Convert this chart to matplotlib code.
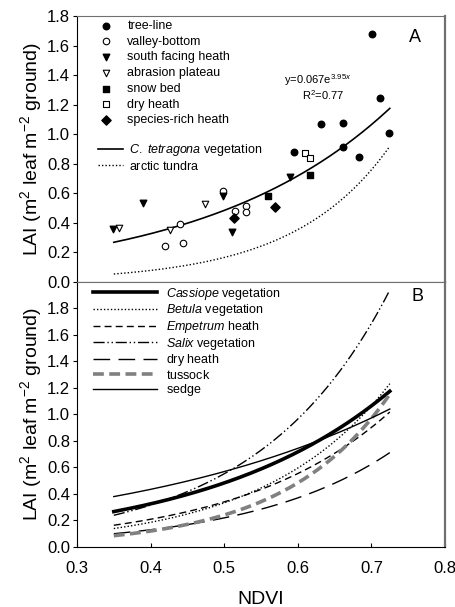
import numpy as np
import matplotlib
matplotlib.use('Agg')
import matplotlib.pyplot as plt
import matplotlib.ticker as mticker

plt.rcParams['font.family'] = ['Liberation Sans', 'DejaVu Sans']
plt.rcParams['mathtext.fontset'] = 'custom'
plt.rcParams['mathtext.rm'] = 'Liberation Sans'
plt.rcParams['mathtext.it'] = 'Liberation Sans:italic'

# ---------------------------------------------------------------------------
# Panel A : LAI mesuré par site (NDVI, LAI)
# ---------------------------------------------------------------------------
tree_line_x = [0.701, 0.712, 0.724, 0.631, 0.661, 0.662, 0.683, 0.595]
tree_line_y = [1.68, 1.245, 1.005, 1.068, 1.073, 0.91, 0.845, 0.881]
valley_x = [0.499, 0.514, 0.530, 0.530, 0.4395, 0.419, 0.444]
valley_y = [0.614, 0.481, 0.515, 0.47, 0.389, 0.24, 0.26]
south_x = [0.349, 0.390, 0.499, 0.510, 0.589]
south_y = [0.359, 0.533, 0.58, 0.339, 0.711]
abrasion_x = [0.357, 0.427, 0.474]
abrasion_y = [0.364, 0.35, 0.524]
snow_x = [0.560, 0.617]
snow_y = [0.583, 0.725]
dry_x = [0.610, 0.616]
dry_y = [0.870, 0.836]
rich_x = [0.569, 0.513]
rich_y = [0.506, 0.432]

# courbes exponentielles y = a * exp(b * NDVI)
ndvi_range = (0.35, 0.725)
tetragona_ab = (0.067, 3.95)
tundra_ab = (0.00358, 7.65)

# ---------------------------------------------------------------------------
# Panel B : relations LAI-NDVI par type de végétation
# ---------------------------------------------------------------------------
veg_labels = [r'$\mathit{Cassiope}\ \mathrm{vegetation}$', r'$\mathit{Betula}\ \mathrm{vegetation}$',
              r'$\mathit{Empetrum}\ \mathrm{heath}$', r'$\mathit{Salix}\ \mathrm{vegetation}$',
              r'$\mathrm{dry\ heath}$', r'$\mathrm{tussock}$', r'$\mathrm{sedge}$']
veg_a = [0.067, 0.01817, 0.0298, 0.0339, 0.01605, 0.00747, 0.1485]
veg_b = [3.95, 5.815, 4.87, 5.58, 5.23, 6.95, 2.685]

veg_styles = [
    dict(color='black', lw=2.6, ls='-'),
    dict(color='black', lw=1.0, ls=(0, (1, 1.5))),
    dict(color='black', lw=1.0, ls=(0, (5, 3))),
    dict(color='black', lw=1.0, ls=(0, (8, 2, 1, 2, 1, 2))),
    dict(color='black', lw=1.0, ls=(0, (12, 6))),
    dict(color='#808080', lw=2.6, ls=(0, (3, 1.5))),
    dict(color='black', lw=1.0, ls='-'),
]

W, H = 456, 607
fig = plt.figure(figsize=(W / 100, H / 100), dpi=100)
left, right = 77, 445
axA = fig.add_axes([left / W, 1 - 281.7 / H, (right - left) / W, (281.7 - 16) / H])
axB = fig.add_axes([left / W, 1 - 547 / H, (right - left) / W, (547 - 281.7) / H])

xs = np.linspace(ndvi_range[0], ndvi_range[1], 200)

# --- Panel A
ms = 22
hA = []
hA.append(axA.scatter(tree_line_x, tree_line_y, s=ms, marker='o', c='black', label='tree-line', zorder=3))
hA.append(axA.scatter(valley_x, valley_y, s=ms, marker='o', facecolors='white', edgecolors='black',
                      linewidths=0.8, label='valley-bottom', zorder=3))
hA.append(axA.scatter(south_x, south_y, s=ms, marker='v', c='black', label='south facing heath', zorder=3))
hA.append(axA.scatter(abrasion_x, abrasion_y, s=ms, marker='v', facecolors='white', edgecolors='black',
                      linewidths=0.8, label='abrasion plateau', zorder=3))
hA.append(axA.scatter(snow_x, snow_y, s=ms - 4, marker='s', c='black', label='snow bed', zorder=3))
hA.append(axA.scatter(dry_x, dry_y, s=ms - 4, marker='s', facecolors='white', edgecolors='black',
                      linewidths=0.8, label='dry heath', zorder=3))
hA.append(axA.scatter(rich_x, rich_y, s=ms, marker='D', c='black', label='species-rich heath', zorder=3))

l1, = axA.plot(xs, tetragona_ab[0] * np.exp(tetragona_ab[1] * xs), color='black', lw=1.2,
               label=r'$\mathit{C.\ tetragona}\ \mathrm{vegetation}$')
l2, = axA.plot(xs, tundra_ab[0] * np.exp(tundra_ab[1] * xs), color='black', lw=1.0,
               ls=(0, (1, 1.5)), label=r'$\mathrm{arctic\ tundra}$')

leg1 = axA.legend(handles=hA, loc='upper left', bbox_to_anchor=(0.052, 0.985), frameon=False,
                  fontsize=9, borderpad=0, handlelength=1.5, handletextpad=1.0,
                  labelspacing=0.3, scatterpoints=1, borderaxespad=0)
axA.add_artist(leg1)
axA.legend(handles=[l1, l2], loc='upper left', bbox_to_anchor=(0.057, 0.525), frameon=False,
           fontsize=9, borderpad=0, handlelength=2.0, handletextpad=0.5,
           labelspacing=0.12, borderaxespad=0)

axA.text(0.627, 1.366, r'y=0.067e$^{3.95x}$', ha='center', va='center', fontsize=8)
axA.text(0.634, 1.265, r'R$^2$=0.77', ha='center', va='center', fontsize=8)
axA.text(0.759, 1.653, 'A', ha='center', va='center', fontsize=13)

axA.set_xlim(0.3, 0.8)
axA.set_ylim(0, 1.8)
axA.set_yticks(np.arange(0, 1.81, 0.2))
axA.set_xticks([])

# --- Panel B
hB = []
for lab, a, b, st in zip(veg_labels, veg_a, veg_b, veg_styles):
    ln, = axB.plot(xs, a * np.exp(b * xs), label=lab, **st)
    hB.append(ln)
axB.legend(handles=hB, loc='upper left', bbox_to_anchor=(0.0435, 0.985), frameon=False,
           fontsize=9, borderpad=0, handlelength=5.1, handletextpad=0.7,
           labelspacing=0.05, borderaxespad=0)
axB.text(0.763, 1.886, 'B', ha='center', va='center', fontsize=13)

axB.set_xlim(0.3, 0.8)
axB.set_ylim(0, 2.0)
axB.set_yticks(np.arange(0, 1.81, 0.2))
axB.set_xticks(np.arange(0.3, 0.81, 0.1))
axB.set_xlabel('NDVI', fontsize=14, labelpad=11)

for ax in (axA, axB):
    ax.yaxis.set_major_formatter(mticker.FormatStrFormatter('%.1f'))
    ax.tick_params(axis='y', direction='out', length=3, labelsize=12, pad=2)
    ax.tick_params(axis='x', direction='in', length=3, labelsize=12, pad=10)
    ax.set_ylabel(r'LAI (m$^2$ leaf m$^{-2}$ ground)', fontsize=14, labelpad=2)
    for sp in ('top', 'right'):
        ax.spines[sp].set_color('#707070')
    ax.spines['right'].set_linewidth(1.6)
axB.xaxis.set_major_formatter(mticker.FormatStrFormatter('%.1f'))

fig.savefig('out.png', dpi=100)
